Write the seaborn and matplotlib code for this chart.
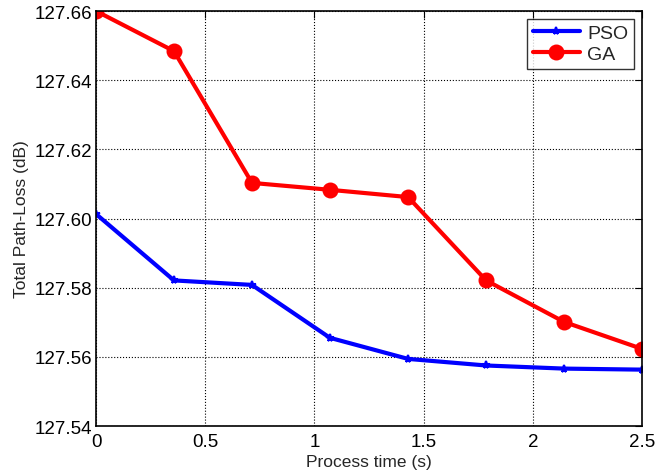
import numpy as np
import pandas as pd
import matplotlib
matplotlib.use("Agg")
import matplotlib.pyplot as plt
import seaborn as sns

# ===============================
# DATA
# ===============================
process_time = [0, 0.357, 0.714, 1.071, 1.429, 1.786, 2.143, 2.5]
pso_loss = [127.6013, 127.5821, 127.5808, 127.5655, 127.5594, 127.5575, 127.5566, 127.5563]
ga_loss = [127.6600, 127.6484, 127.6103, 127.6083, 127.6062, 127.5821, 127.5701, 127.5623]

df = pd.DataFrame({
    'time': process_time * 2,
    'loss': pso_loss + ga_loss,
    'method': ['PSO'] * len(pso_loss) + ['GA'] * len(ga_loss),
})

# ===============================
# PLOT
# ===============================
sns.set_style("white")
plt.rcParams['font.family'] = ['Liberation Sans', 'DejaVu Sans']

fig = plt.figure(figsize=(6.55, 4.77), dpi=100)
ax = fig.add_axes([0.1466, 0.1048, 0.8336, 0.87])

sns.lineplot(data=df, x='time', y='loss', hue='method', style='method',
             palette={'PSO': '#0000ff', 'GA': '#ff0000'},
             markers={'PSO': '*', 'GA': 'o'}, dashes=False,
             linewidth=3, ax=ax, legend=False)

# marker sizes differ per series; edges same colour as line
lines = ax.get_lines()
lines[0].set_markersize(5.5)
lines[1].set_markersize(10)
for ln in lines:
    ln.set_markeredgecolor(ln.get_color())
    ln.set_markeredgewidth(1.5)

ax.set_xlim(0, 2.5)
ax.set_ylim(127.54, 127.66)
ax.set_xticks([0, 0.5, 1, 1.5, 2, 2.5])
ax.set_xticklabels(['0', '0.5', '1', '1.5', '2', '2.5'])
yt = np.arange(127.54, 127.6601, 0.02)
ax.set_yticks(yt)
ax.set_yticklabels([f'{v:.2f}' for v in yt])
ax.tick_params(direction='in', length=5, labelsize=13.5, color='black', pad=3,
               top=True, right=True, labelcolor='black')
ax.tick_params(axis='x', pad=5)
ax.grid(True, color='black', linestyle=':', linewidth=0.8)
for sp in ax.spines.values():
    sp.set_color('black')
    sp.set_linewidth(1.2)

ax.set_xlabel('Process time (s)', fontsize=12.5, labelpad=3)
ax.set_ylabel('Total Path-Loss (dB)', fontsize=12.5, labelpad=4)

leg = ax.legend(lines, ['PSO', 'GA'], loc='upper right', fontsize=14,
                frameon=True, fancybox=False, edgecolor='black',
                borderpad=0.3, handlelength=2.4, labelspacing=0.15,
                handletextpad=0.4, borderaxespad=0.4)
leg.get_frame().set_linewidth(1.0)

fig.savefig('out.png', dpi=100)
